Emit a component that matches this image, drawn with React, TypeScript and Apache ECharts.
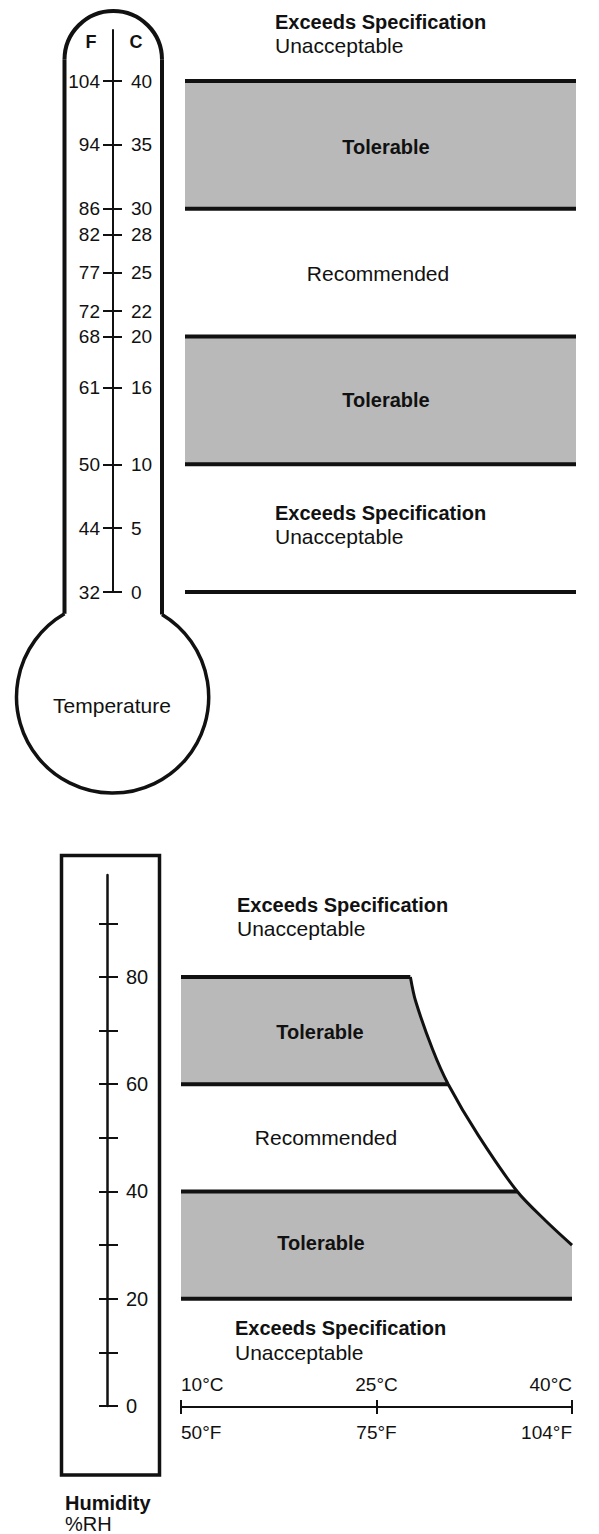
import React, { useEffect, useRef } from "react";
import * as echarts from "echarts";

// ---------- Temperature (°C scale with printed °F labels) ----------
const tempCelsius = [0, 5, 10, 16, 20, 22, 25, 28, 30, 35, 40];
const tempFahrenheitLabels = ["32", "44", "50", "61", "68", "72", "77", "82", "86", "94", "104"];
const tempAxisMax = 44;
// tolerable bands [low, high] in °C
const tempTolerableBands = [
  [30, 40],
  [10, 20],
];
const tempBoundaries = [40, 30, 20, 10, 0];

// ---------- Humidity ----------
const humidityTicks = [0, 10, 20, 30, 40, 50, 60, 70, 80, 90];
const humidityLabels = [0, 20, 40, 60, 80];
const humidityAxisMax = 99;
const humidityBoundaries = [80, 60, 40, 20];
// upper limit curve: temperature (°C) vs relative humidity (%)
const limitCurveTemp = [27.6, 28.0, 29.3, 30.5, 32.8, 35.8, 38.0, 40.0];
const limitCurveRH = [80, 75.5, 66.5, 60, 50.5, 40, 34.5, 30];
// temperature axis of the humidity chart
const xTempC = [10, 25, 40];
const xTempFLabels = ["50°F", "75°F", "104°F"];
const xTempMin = 10;
const xTempMax = 40;

const FONT = "'Liberation Sans', Arial, Helvetica, sans-serif";
const INK = "#111111";
const STIPPLE = "#b9b9b9";

function fLabel(v: number): string {
  const i = tempCelsius.indexOf(v);
  return i >= 0 ? tempFahrenheitLabels[i] : "";
}
function xFLabel(v: number): string {
  const i = xTempC.indexOf(v);
  return i >= 0 ? xTempFLabels[i] : "";
}

const curvePoints = limitCurveTemp.map((t, i) => [t, limitCurveRH[i]]);
function curveTempAt(rh: number): number {
  const i = limitCurveRH.indexOf(rh);
  return i >= 0 ? limitCurveTemp[i] : xTempMax;
}
const humidityPolygons = [
  [[xTempMin, 80], ...curvePoints.filter((p) => p[1] <= 80 && p[1] >= 60), [xTempMin, 60]],
  [[xTempMin, 40], ...curvePoints.filter((p) => p[1] <= 40 && p[1] >= 20), [xTempMax, 20], [xTempMin, 20]],
];

function txt(text: string, x: number, y: number, size: number, weight: string, align: string = "left") {
  return {
    type: "text",
    x,
    y,
    silent: true,
    z: 100,
    style: {
      text,
      fontSize: size,
      fontWeight: weight,
      fontFamily: FONT,
      fill: INK,
      align,
      verticalAlign: "middle",
    },
  };
}

function buildOption(): any {
  const labelBase = { color: INK, fontFamily: FONT, fontSize: 19 };
  const tickLine = { color: INK, width: 2 };

  // thermometer geometry
  const wl = 64.5, wr = 162, topCy = 59.75, topR = 48.75;
  const bcx = 112.6, bcy = 697, br = 96.1;
  const yR = bcy - Math.sqrt(br * br - (wr - bcx) * (wr - bcx));
  const yL = bcy - Math.sqrt(br * br - (wl - bcx) * (wl - bcx));
  const aR = Math.atan2(yR - bcy, wr - bcx);
  const aL = Math.atan2(yL - bcy, wl - bcx) + Math.PI * 2;
  const stroke = { stroke: INK, lineWidth: 4, fill: "none" };

  const graphics: any[] = [
    { type: "arc", silent: true, z: 90, shape: { cx: (wl + wr) / 2, cy: topCy, r: topR, startAngle: Math.PI, endAngle: Math.PI * 2, clockwise: true }, style: stroke },
    { type: "line", silent: true, z: 90, shape: { x1: wl, y1: topCy, x2: wl, y2: yL }, style: stroke },
    { type: "line", silent: true, z: 90, shape: { x1: wr, y1: topCy, x2: wr, y2: yR }, style: stroke },
    { type: "arc", silent: true, z: 90, shape: { cx: bcx, cy: bcy, r: br, startAngle: aR, endAngle: aL, clockwise: true }, style: { stroke: INK, lineWidth: 3.5, fill: "none" } },
    { type: "rect", silent: true, z: 90, shape: { x: 61.5, y: 855.5, width: 98, height: 619.5 }, style: { stroke: INK, lineWidth: 3.5, fill: "none" } },
    txt("F", 91, 42, 18, "bold", "center"),
    txt("C", 136, 42, 18, "bold", "center"),
    txt("Exceeds Specification", 275, 22, 20, "bold"),
    txt("Unacceptable", 275, 45, 21, "normal"),
    txt("Tolerable", 386, 147, 20, "bold", "center"),
    txt("Recommended", 378, 273, 21, "normal", "center"),
    txt("Tolerable", 386, 400, 20, "bold", "center"),
    txt("Exceeds Specification", 275, 513, 20, "bold"),
    txt("Unacceptable", 275, 536, 21, "normal"),
    txt("Temperature", 112, 705, 21, "normal", "center"),
    txt("Exceeds Specification", 237, 905, 20, "bold"),
    txt("Unacceptable", 237, 928, 21, "normal"),
    txt("Tolerable", 320, 1032, 20, "bold", "center"),
    txt("Recommended", 326, 1137, 21, "normal", "center"),
    txt("Tolerable", 321, 1243, 20, "bold", "center"),
    txt("Exceeds Specification", 235, 1328, 20, "bold"),
    txt("Unacceptable", 235, 1352, 21, "normal"),
    txt("Humidity", 65, 1503, 20, "bold"),
    txt("%RH", 65, 1524, 20, "normal"),
  ];

  const hidden = (gridIndex: number, min: number, max: number) => ({
    gridIndex, type: "value", show: false, min, max,
  });

  return {
    animation: false,
    backgroundColor: "#ffffff",
    grid: [
      { left: 113, top: 30, width: 10, height: 562 },
      { left: 185, top: 30, width: 391, height: 562 },
      { left: 107, top: 875, width: 10, height: 531 },
      { left: 181, top: 875, width: 391, height: 531 },
      { left: 181, top: 1300, width: 391, height: 107 },
    ],
    xAxis: [
      hidden(0, 0, 1),
      hidden(1, 0, 1),
      hidden(2, 0, 1),
      hidden(3, xTempMin, xTempMax),
      {
        gridIndex: 4, type: "value", min: xTempMin, max: xTempMax, position: "bottom",
        axisLine: { show: true, onZero: false, lineStyle: tickLine },
        axisTick: { show: true, inside: true, length: 7, customValues: xTempC, lineStyle: tickLine },
        axisLabel: {
          ...labelBase, inside: true, customValues: xTempC, margin: 13,
          formatter: (v: number) => `${v}°C`, showMinLabel: true, showMaxLabel: true,
          alignMinLabel: "left", alignMaxLabel: "right",
        },
        splitLine: { show: false },
      },
      {
        gridIndex: 4, type: "value", min: xTempMin, max: xTempMax, position: "bottom",
        axisLine: { show: false, onZero: false },
        axisTick: { show: true, inside: false, length: 7, customValues: xTempC, lineStyle: tickLine },
        axisLabel: {
          ...labelBase, customValues: xTempC, margin: 16,
          formatter: (v: number) => xFLabel(v), showMinLabel: true, showMaxLabel: true,
          alignMinLabel: "left", alignMaxLabel: "right",
        },
        splitLine: { show: false },
      },
    ],
    yAxis: [
      {
        gridIndex: 0, type: "value", min: 0, max: tempAxisMax, position: "left",
        axisLine: { show: true, onZero: false, lineStyle: tickLine },
        axisTick: { show: true, inside: false, length: 10, customValues: tempCelsius, lineStyle: tickLine },
        axisLabel: { ...labelBase, customValues: tempCelsius, margin: 13, formatter: (v: number) => fLabel(v), showMinLabel: true, showMaxLabel: true },
        splitLine: { show: false },
      },
      {
        gridIndex: 0, type: "value", min: 0, max: tempAxisMax, position: "left",
        axisLine: { show: false, onZero: false },
        axisTick: { show: true, inside: true, length: 9, customValues: tempCelsius, lineStyle: tickLine },
        axisLabel: { ...labelBase, inside: true, customValues: tempCelsius, margin: 18, formatter: (v: number) => String(v), showMinLabel: true, showMaxLabel: true },
        splitLine: { show: false },
      },
      hidden(1, 0, tempAxisMax),
      {
        gridIndex: 2, type: "value", min: 0, max: humidityAxisMax, position: "left",
        axisLine: { show: true, onZero: false, lineStyle: { color: INK, width: 2.5 } },
        axisTick: { show: true, inside: false, length: 8, customValues: humidityTicks, lineStyle: tickLine },
        axisLabel: { show: false },
        splitLine: { show: false },
      },
      {
        gridIndex: 2, type: "value", min: 0, max: humidityAxisMax, position: "left",
        axisLine: { show: false, onZero: false },
        axisTick: { show: true, inside: true, length: 11, customValues: humidityTicks, lineStyle: tickLine },
        axisLabel: { ...labelBase, fontSize: 20, inside: true, customValues: humidityLabels, margin: 19, showMinLabel: true, showMaxLabel: true },
        splitLine: { show: false },
      },
      hidden(3, 0, humidityAxisMax),
      hidden(4, 0, 1),
    ],
    series: [
      {
        type: "custom", xAxisIndex: 1, yAxisIndex: 2, silent: true, z: 1,
        data: tempTolerableBands,
        renderItem: (_p: any, api: any) => {
          const lo = api.value(0), hi = api.value(1);
          const a = api.coord([0, hi]);
          const b = api.coord([1, lo]);
          return { type: "rect", shape: { x: a[0], y: a[1], width: b[0] - a[0], height: b[1] - a[1] }, style: { fill: STIPPLE } };
        },
      },
      {
        type: "custom", xAxisIndex: 1, yAxisIndex: 2, silent: true, z: 3,
        data: tempBoundaries.map((v) => [0.5, v]),
        renderItem: (_p: any, api: any) => {
          const v = api.value(1);
          const a = api.coord([0, v]);
          const b = api.coord([1, v]);
          return { type: "line", shape: { x1: a[0], y1: a[1], x2: b[0], y2: b[1] }, style: { stroke: INK, lineWidth: 4 } };
        },
      },
      {
        type: "custom", xAxisIndex: 3, yAxisIndex: 5, silent: true, z: 1,
        data: humidityPolygons.map(() => [xTempMin, 50]),
        renderItem: (p: any, api: any) => ({
          type: "polygon",
          shape: { points: humidityPolygons[p.dataIndex].map((pt) => api.coord(pt)) },
          style: { fill: STIPPLE },
        }),
      },
      {
        type: "custom", xAxisIndex: 3, yAxisIndex: 5, silent: true, z: 3,
        data: humidityBoundaries.map((rh) => [xTempMin, rh, curveTempAt(rh)]),
        renderItem: (_p: any, api: any) => {
          const a = api.coord([api.value(0), api.value(1)]);
          const b = api.coord([api.value(2), api.value(1)]);
          return { type: "line", shape: { x1: a[0], y1: a[1], x2: b[0], y2: b[1] }, style: { stroke: INK, lineWidth: 4 } };
        },
      },
      {
        type: "line", xAxisIndex: 3, yAxisIndex: 5, silent: true, z: 4,
        data: curvePoints, smooth: 0.3, symbol: "none",
        lineStyle: { color: INK, width: 3 },
      },
    ],
    graphic: graphics,
  };
}

export default function App() {
  const ref = useRef<HTMLDivElement>(null);
  useEffect(() => {
    if (!ref.current) return;
    const chart = echarts.init(ref.current, null, { renderer: "svg" });
    chart.setOption(buildOption());
    return () => chart.dispose();
  }, []);
  return (
    <div
      ref={ref}
      style={{ position: "absolute", left: 0, top: 0, width: 599, height: 1534, background: "#ffffff" }}
    />
  );
}
